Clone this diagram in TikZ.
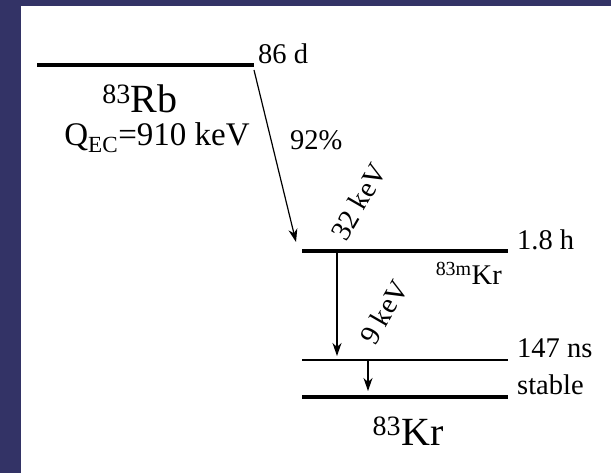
\documentclass[tikz,border=0pt]{standalone}
\usepackage{fontspec}
\setmainfont{Liberation Serif}
\usetikzlibrary{arrows.meta}
\definecolor{slidebg}{RGB}{51,51,102}
\tikzset{
  lvlthick/.style={line width=3.8pt},
  lvlthin/.style={line width=1.3pt},
  decay/.style={line width=1.2pt, -{Stealth[length=13pt,width=9pt,inset=4pt]}},
  lbl/.style={font=\fontsize{28.5}{30}\selectfont, inner sep=0pt, anchor=base west},
  nucl/.style={font=\fontsize{40}{42}\selectfont, inner sep=0pt, anchor=base},
  gam/.style={font=\fontsize{28.5}{30}\selectfont, inner sep=0pt, anchor=base west, rotate=60},
}

\begin{document}
\begin{tikzpicture}[x=1pt,y=-1pt]
  \fill[slidebg] (0,0) rectangle (611,473);
  \fill[white] (21,6) rectangle (611,473);
  \useasboundingbox (0,0) rectangle (611,473);
  % levels
  \coordinate (RbL) at (37,65);   \coordinate (RbR) at (254,65);
  \coordinate (KrmL) at (302,251); \coordinate (KrmR) at (508,251);
  \coordinate (KrsL) at (302,360); \coordinate (KrsR) at (508,360);
  \coordinate (KrgL) at (302,397); \coordinate (KrgR) at (508,397);
  \draw[lvlthick] (RbL) -- (RbR);
  \draw[lvlthick] (KrmL) -- (KrmR);
  \draw[lvlthin] (KrsL) -- (KrsR);
  \draw[lvlthick] (KrgL) -- (KrgR);
  % transitions
  \coordinate (ecA) at (254,70);  \coordinate (ecB) at (296,242);
  \coordinate (g32A) at (337,253); \coordinate (g32B) at (337,356);
  \coordinate (g9A) at (368,361);  \coordinate (g9B) at (368,391);
  \draw[decay] (ecA) -- (ecB);
  \draw[decay] (g32A) -- (g32B);
  \draw[decay] (g9A) -- (g9B);
  % labels
  \node[lbl] (tRb) at (258,64) {86 d};
  \node[lbl] (tKrm) at (517,250) {1.8 h};
  \node[lbl] (tKrs) at (517,358) {147 ns};
  \node[lbl] (tKrg) at (517,395) {stable};
  \node[lbl] (br) at (290,150) {92\%};
  \node[nucl] (nRb) at (140,113) {\textsuperscript{83}Rb};
  \node[lbl, anchor=base, font=\fontsize{33}{35}\selectfont] (qec) at (157,146) {Q\textsubscript{EC}=910 keV};
  \node[lbl, anchor=base east] (nKrm) at (502,285) {\textsuperscript{83m}Kr};
  \node[nucl] (nKr) at (408,445) {\textsuperscript{83}Kr};
  \node[gam] (e32) at (346,243) {32 keV};
  \node[gam] (e9) at (375,347) {9 keV};
\end{tikzpicture}
\end{document}
